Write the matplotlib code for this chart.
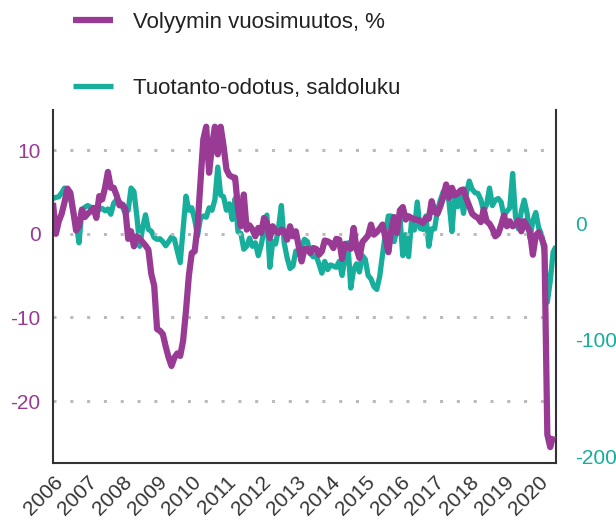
import matplotlib
matplotlib.use('Agg')
import matplotlib.pyplot as plt
import numpy as np

plt.rcParams['font.family'] = ['Liberation Sans', 'DejaVu Sans']

# ---- data (monthly, starting Jan 2006) ----
start_year = 2006
volume_change = [
    3.7, 0.0, 1.5, 2.4, 3.8, 5.4, 4.9, 2.7, 0.4, 0.9, 2.9, 2.0,          # 2006
    2.4, 2.7, 3.1, 1.9, 4.5, 4.1, 5.5, 7.4, 5.5, 5.5, 4.6, 3.4,          # 2007
    3.5, 3.0, -0.6, 0.3, -1.5, -0.3, -0.6, -1.0, -1.4, -1.9, -4.8, -6.2,  # 2008
    -11.4, -11.6, -12.0, -13.5, -14.8, -15.8, -14.8, -14.3, -14.6, -12.8, -9.2, -5.0,  # 2009
    -2.3, -2.1, 0.9, 6.1, 11.3, 12.8, 7.3, 10.5, 12.8, 9.5, 12.8, 10.5,  # 2010
    7.7, 7.0, 6.8, 6.7, 3.0, 0.9, 4.7, 0.5, 1.0, 0.5, -0.3, 0.7,         # 2011
    0.1, 1.9, 1.3, -0.5, 0.9, 0.3, 0.1, 0.5, 0.3, -0.7, 0.9, -0.3,       # 2012
    0.3, -1.5, -3.3, -1.8, -1.8, -2.3, -1.7, -1.8, -2.5, -2.1, -0.8, -0.9,  # 2013
    -1.1, -1.7, -0.6, -0.7, -3.0, -1.2, -1.6, -1.8, 0.7, -1.8, -2.9, -1.0,  # 2014
    -0.6, -0.2, 1.1, -0.1, 0.2, 0.6, 1.1, -0.5, -2.2, 0.4, 2.0, 0.1,     # 2015
    2.8, 3.2, 1.7, 2.1, 1.9, 1.7, 1.7, 1.5, 1.3, 1.9, 1.8, 3.9,          # 2016
    2.6, 2.4, 3.3, 4.4, 5.9, 4.3, 5.5, 4.6, 4.8, 5.2, 5.3, 4.2,          # 2017
    3.3, 2.4, 2.1, 1.9, 1.4, 2.9, 1.5, 1.2, 0.6, -0.3, 0.0, 1.0,         # 2018
    2.2, 0.9, 1.5, 0.9, 1.1, 1.6, 0.3, 1.5, 0.9, 0.2, -2.5, -0.2,        # 2019
    0.2, -0.5, -1.5, -24.0, -25.5, -24.2,                                # 2020
]
production_expectation = [
    21, 22, 22.5, 26, 30, 29, 22.5, 9, 0, -17, 11, 13.5,                 # 2006
    15, 13.5, 13, 13, 11.5, 12.5, 10.5, 12, 7.5, 17, 20, 18.5,           # 2007
    14, 8.3, 11, 30, 27, 6, -20, -4, 7, -5.5, -7, -12.5,                 # 2008
    -14, -13.5, -16, -19.5, -16, -12, -14, -24, -34, -5, 23, 11,         # 2009
    13, 3, -11, 4, 6, 5, 13, 11, 20, 48, 24, 22.5,                       # 2010
    11, 16.5, 3, 21, -7.4, -9, -22.5, -20, -13, -20, -17, -28,           # 2011
    -19, -6, 6.8, -38, -16, -18, -4.6, 15, -17.4, -30, -39, -37,         # 2012
    -24, -27, -20, -14, -16, -26, -29, -28, -35, -43, -33, -40,          # 2013
    -36, -37, -38, -33, -45, -30, -17, -55.8, -40, -35, -42, -28,        # 2014
    -31, -45, -48, -54.5, -57, -46, -27, -9, 6, 6, -16, -5,              # 2015
    6, -28, -10, -28.8, 1, -6, 18, -4.6, -5.5, 6, -20, -5,               # 2016
    -5, 11, 19.7, 27, 30, 18, -7.4, 24, 14, 24, 8.3, 25.4,               # 2017
    36, 29, 26, 25.4, 20, 10, 16, 30, 15, 19.7, 21, 18,                  # 2018
    6, 10, 13, 42.5, 5, -5, 10, 19.7, 8.3, -13, 2, 9,                    # 2019
    -4, -10, -26, -68, -50, -25, -20,                                    # 2020
]
years = list(range(2006, 2021))
left_ticks = [-20, -10, 0, 10]
right_ticks = [-200, -100, 0]
label_volume = "Volyymin vuosimuutos, %"
label_expect = "Tuotanto-odotus, saldoluku"

PURPLE = '#993b95'
TEAL = '#17ae9c'
DARK = '#333333'

x_vol = start_year + np.arange(len(volume_change)) / 12
x_exp = start_year + np.arange(len(production_expectation)) / 12

fig = plt.figure(figsize=(6.16, 5.23), dpi=100)
ax = fig.add_axes([53/616, 1 - 463/523, (556 - 53)/616, (463 - 110)/523])
ax2 = ax.twinx()

l_exp, = ax2.plot(x_exp, production_expectation, color=TEAL, lw=3.8,
                  solid_joinstyle='round', solid_capstyle='butt', label=label_expect)
l_vol, = ax.plot(x_vol, volume_change, color=PURPLE, lw=4.5,
                 solid_joinstyle='round', solid_capstyle='butt', label=label_volume)
ax.set_zorder(ax2.get_zorder() + 1)
ax.patch.set_visible(False)

ax.set_xlim(2006.0, 2020.5)
ax.set_ylim(-27.4, 14.8)
ax2.set_ylim(-206, 97)

ax.set_yticks(left_ticks)
ax.set_yticklabels([str(v) for v in left_ticks])
ax2.set_yticks(right_ticks)
ax2.set_yticklabels([str(v) for v in right_ticks])
ax.set_xticks(years)
ax.set_xticklabels([str(y) for y in years])

ax.yaxis.grid(True, color='#bbbbbb', linestyle=(0, (1, 4.5)), lw=2.2)
ax.xaxis.grid(False)

for a in (ax, ax2):
    a.spines['top'].set_visible(False)
    for s in a.spines.values():
        s.set_color(DARK)
        s.set_linewidth(1.5)
ax.spines['right'].set_visible(False)
ax2.spines['left'].set_visible(False)
ax2.spines['bottom'].set_visible(False)

ax.tick_params(axis='y', length=0, pad=9, labelcolor=PURPLE, labelsize=15)
ax2.tick_params(axis='y', length=0, pad=14, labelcolor=TEAL, labelsize=15)
ax.tick_params(axis='x', length=0, pad=7, labelcolor=DARK, labelsize=15)
plt.setp(ax.get_xticklabels(), rotation=45, ha='right', va='top', rotation_mode='anchor')

fig.legend(handles=[l_vol, l_exp], loc='upper left',
           bbox_to_anchor=(73/616, 1 - 12/523), frameon=False, fontsize=16,
           handlelength=1.8, handletextpad=0.9, labelspacing=2.03,
           borderpad=0, borderaxespad=0, labelcolor='#222222')

fig.savefig('out.png', dpi=100)
